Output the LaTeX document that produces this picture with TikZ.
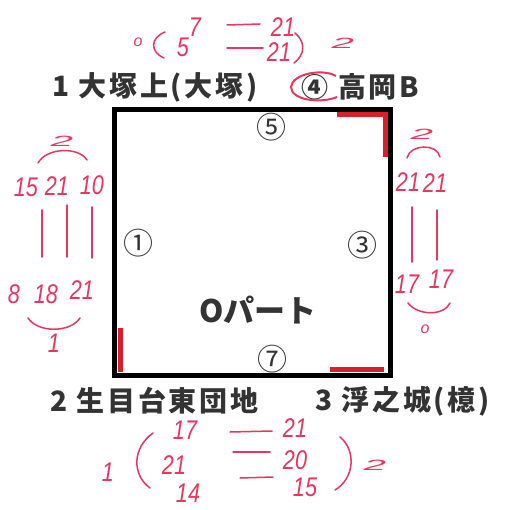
\documentclass[tikz,border=0pt]{standalone}
\usepackage{fontspec}
\setmainfont{Liberation Sans}
\newfontfamily\jp{Noto Sans CJK JP}
\newfontfamily\jpsp{Noto Sans CJK JP}[LetterSpace=10]
\definecolor{ink}{HTML}{333333}
\definecolor{pen}{HTML}{E8365E}
\definecolor{markred}{HTML}{D8202A}
\newcommand{\hdnum}[1]{\scalebox{0.8}[1]{#1}}
\newcommand{\flattwo}[1]{\scalebox{1.5}[0.55]{#1}}
\tikzset{
  lab/.style={font=\jpsp\bfseries\fontsize{28}{28}\selectfont, text=ink, inner sep=0pt, anchor=west},
  circ/.style={font=\jp\fontsize{30}{30}\selectfont, text=ink, inner sep=0pt},
  hw/.style={font=\itshape\fontsize{27}{27}\selectfont, text=pen, inner sep=0pt},
  hws/.style={font=\itshape\fontsize{16}{16}\selectfont, text=pen, inner sep=0pt},
  hwl/.style={draw=pen, line width=1.5pt, line cap=round},
  cornermark/.style={draw=markred, line width=5pt}
}
\begin{document}
\begin{tikzpicture}[x=1pt,y=-1pt]
\useasboundingbox[fill=white] (0,0) rectangle (509,510);
% main square
\node[draw=black, line width=5pt, minimum width=276pt, minimum height=266pt, inner sep=0pt] (sq) at (252.5,242.5) {};
% red corner marks
\draw[cornermark] (337,114.5) -- (385,114.5) -- (385,157);
\draw[cornermark] (120,328) -- (120,372);
\draw[cornermark] (330,369.5) -- (384,369.5);
% labels
\node[lab] (t1) at (52,87) {1 大塚上(大塚)};
\node[circ, font=\jp\bfseries\fontsize{27}{27}\selectfont] (c4) at (315,87) {④};
\node[lab] (t4) at (338,87) {高岡B};
\node[lab] (t2) at (50,401) {2 生目台東団地};
\node[lab] (t3) at (315,401) {3 浮之城(檍)};
\draw[draw=pen, line width=2pt] (336,76) .. controls (322,68) and (292,74) .. (291,87) .. controls (291,100) and (320,104) .. (337,97);
% inner
\node[circ] (c5) at (271,127) {⑤};
\node[circ] (c1) at (138,243) {①};
\node[circ] (c3) at (362,245) {③};
\node[circ] (c7) at (272,359) {⑦};
\node[circ, font=\jp\bfseries\fontsize{31}{31}\selectfont] (op) at (258,310) {Oパート};
% top handwriting
\node[hws] (a0) at (138,42) {o};
\draw[hwl] (165,32) .. controls (150,38) and (150,52) .. (164,58);
\node[hw] (a7) at (195,27) {\hdnum{7}};
\node[hw] (a5) at (183,47) {\hdnum{5}};
\draw[hwl] (227,25) -- (260,24);
\draw[hwl] (227,48) -- (263,48);
\node[hw] (a21a) at (283,27) {\hdnum{21}};
\node[hw] (a21b) at (279,52) {\hdnum{21}};
\draw[hwl] (295,33) .. controls (306,42) and (305,55) .. (294,63);
\node[hw] (a2) at (343,43) {\flattwo{2}};
% left handwriting
\node[hw] (l2) at (62,141) {\flattwo{2}};
\draw[hwl] (38,163) .. controls (46,148) and (78,146) .. (87,160);
\node[hw] (l15) at (26,187) {\hdnum{15}};
\node[hw] (l21) at (57,186) {\hdnum{21}};
\node[hw] (l10) at (92,185) {\hdnum{10}};
\draw[hwl] (42,210) -- (42,257);
\draw[hwl] (67,205) -- (67,257);
\draw[hwl] (92,207) -- (92,258);
\node[hw] (l8) at (14,294) {\hdnum{8}};
\node[hw] (l18) at (46,294) {\hdnum{18}};
\node[hw] (l21b) at (82,290) {\hdnum{21}};
\draw[hwl] (28,318) .. controls (38,333) and (70,333) .. (80,318);
\node[hw] (l1) at (54,343) {\hdnum{1}};
% right handwriting
\node[hw] (r2) at (422,134) {\flattwo{2}};
\draw[hwl] (407,158) .. controls (410,144) and (437,143) .. (440,157);
\node[hw] (r21a) at (408,182) {\hdnum{21}};
\node[hw] (r21b) at (435,183) {\hdnum{21}};
\draw[hwl] (412,207) -- (412,262);
\draw[hwl] (437,210) -- (437,260);
\node[hw] (r17a) at (407,284) {\hdnum{17}};
\node[hw] (r17b) at (441,279) {\hdnum{17}};
\draw[hwl] (408,303) .. controls (418,316) and (444,316) .. (450,303);
\node[hws] (r0) at (425,329) {o};
% bottom handwriting
\node[hw] (b17) at (185,430) {\hdnum{17}};
\draw[hwl] (230,432) -- (272,431);
\node[hw] (b21a) at (295,428) {\hdnum{21}};
\node[hw] (b1) at (108,472) {\hdnum{1}};
\draw[hwl] (153,433) .. controls (132,448) and (132,475) .. (150,488);
\node[hw] (b21b) at (174,465) {\hdnum{21}};
\draw[hwl] (233,452) -- (270,452);
\node[hw] (b20) at (295,460) {\hdnum{20}};
\draw[hwl] (240,478) -- (273,477);
\node[hw] (b14) at (188,493) {\hdnum{14}};
\node[hw] (b15) at (305,487) {\hdnum{15}};
\draw[hwl] (340,437) .. controls (356,450) and (355,478) .. (335,490);
\node[hw] (b2) at (375,465) {\flattwo{2}};
\end{tikzpicture}
\end{document}
